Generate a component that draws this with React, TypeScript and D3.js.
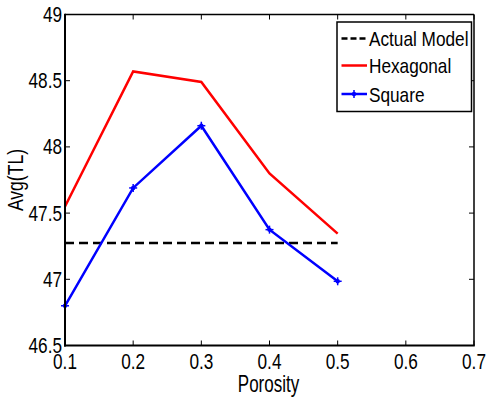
import React from "react";
import * as d3 from "d3";

const porosity = [0.1, 0.2, 0.3, 0.4, 0.5];
const hexagonal = [47.55, 48.57, 48.49, 47.8, 47.345];
const square = [46.8, 47.69, 48.16, 47.375, 46.985];
const actualModel = [47.275, 47.275, 47.275, 47.275, 47.275];
const xTicks = [0.1, 0.2, 0.3, 0.4, 0.5, 0.6, 0.7];
const yTicks = [46.5, 47, 47.5, 48, 48.5, 49];
const legendLabels = ["Actual Model", "Hexagonal", "Square"];

const W = 487, H = 397;
const L = 65, R = 474, T = 14.5, B = 345.5;
const FONT = "'Liberation Sans', Arial, sans-serif";
const SX = 0.8;

export default function App() {
  const x = d3.scaleLinear().domain([0.1, 0.7]).range([L, R]);
  const y = d3.scaleLinear().domain([46.5, 49]).range([B, T]);
  const line = d3
    .line<number>()
    .x((_, i) => x(porosity[i]))
    .y((d) => y(d));

  const fmtY = (v: number) => (Number.isInteger(v) ? String(v) : v.toFixed(1));

  const legendX = 337, legendY = 22, legendW = 134.5, legendH = 89.5;
  const rows = [38.5, 65.5, 94];
  const colors = ["#000000", "#ff0000", "#0000ff"];

  const marker = (cx: number, cy: number, key: string) => (
    <g key={key}>
      <circle cx={cx} cy={cy} r={2.2} fill="#0000ff" />
      <line x1={cx - 4} x2={cx + 4} y1={cy} y2={cy} stroke="#0000ff" strokeWidth={1.5} />
      <line x1={cx} x2={cx} y1={cy - 4} y2={cy + 4} stroke="#0000ff" strokeWidth={1.5} />
    </g>
  );

  return (
    <svg
      width={W}
      height={H}
      style={{ position: "absolute", left: 0, top: 0, background: "#fff" }}
      fontFamily={FONT}
    >
      <rect x={0} y={0} width={W} height={H} fill="#fff" />
      {/* data lines */}
      <path d={line(actualModel) || ""} fill="none" stroke="#000" strokeWidth={2.5} strokeDasharray="9,5" />
      <path d={line(hexagonal) || ""} fill="none" stroke="#ff0000" strokeWidth={2.5} />
      <path d={line(square) || ""} fill="none" stroke="#0000ff" strokeWidth={2.5} />
      {square.map((v, i) => marker(x(porosity[i]), y(v), "m" + i))}

      {/* ticks */}
      {xTicks.map((t) => (
        <g key={"xt" + t}>
          <line x1={x(t)} x2={x(t)} y1={B} y2={B - 5} stroke="#000" strokeWidth={1} />
          <line x1={x(t)} x2={x(t)} y1={T} y2={T + 5} stroke="#000" strokeWidth={1} />
          <text
            transform={`translate(${x(t)},${B + 23.5}) scale(${SX},1)`}
            textAnchor="middle"
            fontSize={21.5}
            fill="#000"
          >
            {t.toFixed(1)}
          </text>
        </g>
      ))}
      {yTicks.map((t) => (
        <g key={"yt" + t}>
          <line x1={L} x2={L + 5} y1={y(t)} y2={y(t)} stroke="#000" strokeWidth={1} />
          <line x1={R} x2={R - 5} y1={y(t)} y2={y(t)} stroke="#000" strokeWidth={1} />
          <text
            transform={`translate(${L - 3},${y(t) + 7.5}) scale(${SX},1)`}
            textAnchor="end"
            fontSize={21.5}
            fill="#000"
          >
            {fmtY(t)}
          </text>
        </g>
      ))}

      {/* frame */}
      <line x1={L} x2={R} y1={T} y2={T} stroke="#000" strokeWidth={1.5} />
      <line x1={R} x2={R} y1={T} y2={B} stroke="#000" strokeWidth={1.5} />
      <line x1={L} x2={L} y1={T - 0.75} y2={B + 1} stroke="#000" strokeWidth={2} />
      <line x1={L - 1} x2={R + 0.75} y1={B} y2={B} stroke="#000" strokeWidth={2} />

      {/* axis labels */}
      <text
        transform={`translate(${(L + R) / 2 - 1},${B + 46.5}) scale(0.74,1)`}
        textAnchor="middle"
        fontSize={23}
        fill="#000"
      >
        Porosity
      </text>
      <text
        transform={`translate(23,${(T + B) / 2}) rotate(-90) scale(0.8,1)`}
        textAnchor="middle"
        fontSize={22}
        fill="#000"
      >
        Avg(TL)
      </text>

      {/* legend */}
      <rect x={legendX} y={legendY} width={legendW} height={legendH} fill="#fff" stroke="#000" strokeWidth={1.5} />
      {legendLabels.map((lab, i) => (
        <g key={lab}>
          <line
            x1={341.5}
            x2={367}
            y1={rows[i]}
            y2={rows[i]}
            stroke={colors[i]}
            strokeWidth={2.5}
            strokeDasharray={i === 0 ? "6,3" : undefined}
          />
          {i === 2 && marker(354, rows[i], "lm")}
          <text
            transform={`translate(369,${rows[i] + 7.5}) scale(0.82,1)`}
            fontSize={21}
            fill="#000"
          >
            {lab}
          </text>
        </g>
      ))}
    </svg>
  );
}
